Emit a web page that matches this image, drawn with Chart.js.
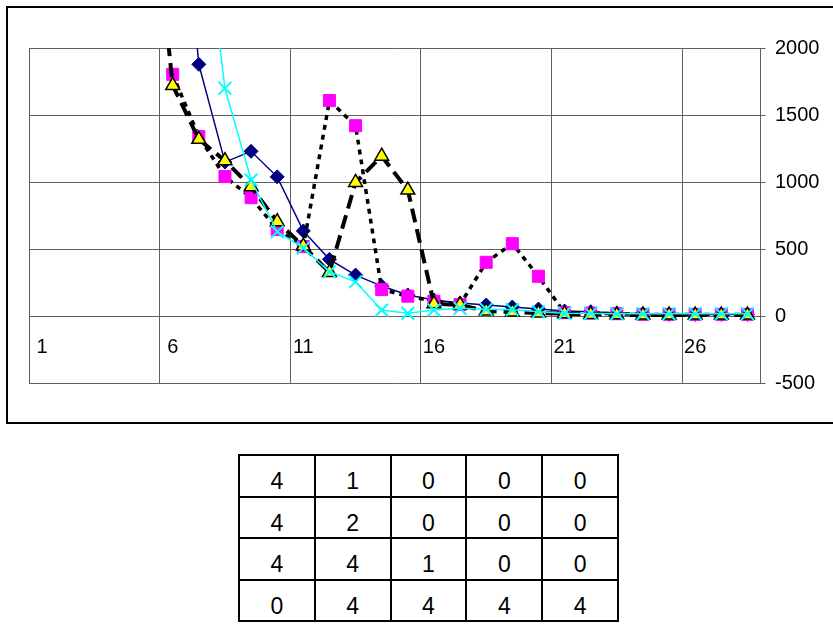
<!DOCTYPE html>
<html><head><meta charset="utf-8">
<script src="https://cdn.jsdelivr.net/npm/chart.js@4"></script>
<style>
html,body{margin:0;padding:0;background:#fff;width:833px;height:625px;overflow:hidden;font-family:"Liberation Sans",Arial,sans-serif;}
#frame{position:absolute;left:6px;top:6px;width:840px;height:414px;border:2px solid #000;border-right:none;}
#chartBox{position:absolute;left:0;top:0;width:833px;height:430px;}
#tbl{position:absolute;left:238px;top:454px;border-collapse:separate;border-spacing:0;border-left:2px solid #000;border-top:2px solid #000;}
#tbl td{border-right:2px solid #000;border-bottom:2px solid #000;width:73.8px;height:39.6px;padding:0;text-align:center;vertical-align:middle;font-size:23px;color:#000;}
#tbl td span{position:relative;top:6px;}
</style></head>
<body>
<div id="frame"></div>
<div id="chartBox"><canvas id="c" width="833" height="430"></canvas></div>
<table id="tbl"></table>
<script>
const categories = ['1','2','3','4','5','6','7','8','9','10','11','12','13','14','15','16','17','18','19','20','21','22','23','24','25','26','27','28'];
const yTicks = [-500, 0, 500, 1000, 1500, 2000];
const seriesNavy   = [null,null,null,null,null,4000,1878,1150,1230,1040,637,425,308,226,160,122,100,85,70,55,40,35,25,20,15,15,15,15];
const seriesPink   = [null,null,null,null,null,1804,1340,1042,885,647,520,1608,1421,200,151,113,88,403,542,299,28,25,20,15,15,15,15,15];
const seriesYellow = [null,null,null,null,3600,1721,1320,1160,966,706,524,328,998,1194,941,94,85,40,33,25,20,15,12,10,10,10,10,10];
const seriesCyan   = [null,null,null,null,null,null,3300,1700,1016,631,510,333,258,47,23,48,60,53,50,35,23,22,20,20,20,20,20,20];
const tableRow1 = [4,1,0,0,0];
const tableRow2 = [4,2,0,0,0];
const tableRow3 = [4,4,1,0,0];
const tableRow4 = [0,4,4,4,4];

// table
const tbl = document.getElementById('tbl');
[tableRow1, tableRow2, tableRow3, tableRow4].forEach(r => {
  const tr = document.createElement('tr');
  r.forEach(v => { const td = document.createElement('td'); const s = document.createElement('span'); s.textContent = v; td.appendChild(s); tr.appendChild(td); });
  tbl.appendChild(tr);
});

Chart.defaults.font.family = '"Liberation Sans", Arial, sans-serif';
Chart.defaults.font.size = 20;
Chart.defaults.color = '#000';

const gridCol = '#606060';
new Chart(document.getElementById('c'), {
  type: 'line',
  data: {
    labels: categories,
    datasets: [
      { data: seriesNavy, order: 3, borderColor: '#000080', borderWidth: 1.5, pointStyle: 'rectRot', pointRadius: 7, pointBackgroundColor: '#000080', pointBorderColor: '#000080', pointBorderWidth: 1, tension: 0 },
      { data: seriesPink, order: 2, borderColor: '#000', borderWidth: 3.5, borderDash: [5,5], pointStyle: 'rect', pointRadius: 8.5, pointBackgroundColor: '#FF00FF', pointBorderColor: '#FF00FF', pointBorderWidth: 1, tension: 0 },
      { data: seriesYellow, order: 1, borderColor: '#000', borderWidth: 4, borderDash: [14,7], pointStyle: 'triangle', pointRadius: 8, pointBackgroundColor: '#FFFF00', pointBorderColor: '#000', pointBorderWidth: 1.5, tension: 0 },
      { data: seriesCyan, order: 0, borderColor: '#00FFFF', borderWidth: 1.5, pointStyle: 'crossRot', pointRadius: 9, pointBackgroundColor: '#00FFFF', pointBorderColor: '#00FFFF', pointBorderWidth: 2, tension: 0 }
    ]
  },
  options: {
    responsive: false,
    animation: false,
    events: [],
    layout: { padding: { left: 29, top: 48, right: 0, bottom: 46.5 } },
    plugins: { legend: { display: false }, tooltip: { enabled: false } },
    scales: {
      x: {
        type: 'category',
        position: { y: 0 },
        offset: true,
        afterFit: s => { s.height = 0; },
        grid: {
          offset: true,
          drawTicks: false,
          color: ctx => (ctx.index !== undefined && ctx.index % 5 === 0) ? gridCol : 'rgba(0,0,0,0)',
          lineWidth: 1
        },
        border: { display: false },
        ticks: {
          autoSkip: false, maxRotation: 0, minRotation: 0, padding: 19,
          callback: function(v, i) { return i % 5 === 0 ? categories[i] : ''; }
        }
      },
      y: {
        position: 'right',
        min: yTicks[0], max: yTicks[yTicks.length - 1],
        afterFit: s => { s.width = 72.5; },
        afterBuildTicks: s => { s.ticks = yTicks.map(v => ({ value: v })); },
        grid: { color: gridCol, lineWidth: 1, tickLength: 5, drawTicks: true },
        border: { display: true, color: gridCol },
        ticks: { padding: 9.5, callback: v => String(v) }
      }
    }
  }
});
</script>
</body></html>
